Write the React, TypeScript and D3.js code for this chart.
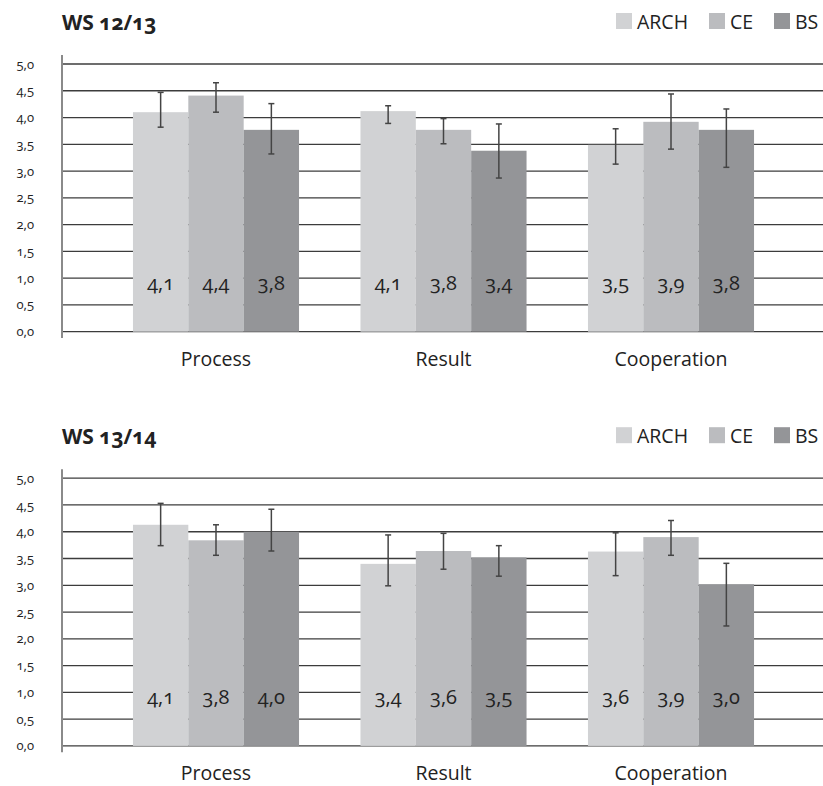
import React from "react";
import * as d3 from "d3";

const categories = ["Process", "Result", "Cooperation"];
const seriesNames = ["ARCH", "CE", "BS"];
const seriesColors = ["#d1d2d4", "#bbbcbf", "#949598"];
const tickValues = [0, 0.5, 1, 1.5, 2, 2.5, 3, 3.5, 4, 4.5, 5];

// WS 12/13
const ws1213_ARCH = [4.1, 4.12, 3.49];
const ws1213_CE = [4.41, 3.77, 3.92];
const ws1213_BS = [3.77, 3.38, 3.77];
const ws1213_ARCH_hi = [4.47, 4.22, 3.79];
const ws1213_ARCH_lo = [3.82, 3.89, 3.13];
const ws1213_CE_hi = [4.65, 3.98, 4.44];
const ws1213_CE_lo = [4.1, 3.51, 3.41];
const ws1213_BS_hi = [4.26, 3.88, 4.16];
const ws1213_BS_lo = [3.32, 2.87, 3.07];

// WS 13/14
const ws1314_ARCH = [4.13, 3.4, 3.63];
const ws1314_CE = [3.84, 3.64, 3.9];
const ws1314_BS = [4.0, 3.52, 3.02];
const ws1314_ARCH_hi = [4.53, 3.94, 3.98];
const ws1314_ARCH_lo = [3.74, 2.99, 3.18];
const ws1314_CE_hi = [4.13, 3.97, 4.21];
const ws1314_CE_lo = [3.56, 3.3, 3.56];
const ws1314_BS_hi = [4.42, 3.74, 3.41];
const ws1314_BS_lo = [3.64, 3.17, 2.24];

const FONT = "'Open Sans', 'Noto Sans', sans-serif";
const fmt = (v: number) => d3.format(".1f")(v).replace(".", ",");

type PanelProps = {
  title: string;
  off: number;
  values: number[][];
  hi: number[][];
  lo: number[][];
};

function Panel({ title, off, values, hi, lo }: PanelProps) {
  const y = d3.scaleLinear().domain([0, 5]).range([331.7 + off, 64 + off]);
  const x0 = d3
    .scaleBand<string>()
    .domain(categories)
    .range([102.25, 784.75])
    .paddingInner(0.27)
    .paddingOuter(0.135);
  const x1 = d3
    .scaleBand<string>()
    .domain(seriesNames)
    .range([0, x0.bandwidth()]);
  const numStyle: React.CSSProperties = { fontVariantNumeric: "oldstyle-nums" };
  const legendX = [616, 709, 774];
  return (
    <g>
      <text
        x={62}
        y={30 + off}
        fontFamily={FONT}
        fontWeight={700}
        fontSize={21}
        fill="#222"
        style={numStyle}
      >
        {title}
      </text>
      {seriesNames.map((s, i) => (
        <g key={s}>
          <rect x={legendX[i]} y={13 + off} width={16} height={16} fill={seriesColors[i]} />
          <text
            x={legendX[i] + 21}
            y={29 + off}
            fontFamily={FONT}
            fontSize={19.5}
            fill="#222"
          >
            {s}
          </text>
        </g>
      ))}
      {tickValues.map((t) => (
        <g key={t}>
          <line x1={62} x2={823} y1={y(t)} y2={y(t)} stroke="#3c3c3c" strokeWidth={1.3} />
          <text
            x={34}
            y={y(t)}
            dy="0.35em"
            textAnchor="end"
            fontFamily={FONT}
            fontSize={13}
            fill="#222"
            style={numStyle}
          >
            {fmt(t)}
          </text>
        </g>
      ))}
      <line x1={62} x2={62} y1={55 + off} y2={338 + off} stroke="#8a8a8a" strokeWidth={2} />
      {categories.map((c, ci) => (
        <g key={c} transform={`translate(${x0(c)},0)`}>
          {seriesNames.map((s, si) => {
            const v = values[si][ci];
            const bx = x1(s) as number;
            const cx = bx + x1.bandwidth() / 2;
            return (
              <g key={s}>
                <rect
                  x={bx}
                  y={y(v)}
                  width={x1.bandwidth()}
                  height={y(0) - y(v)}
                  fill={seriesColors[si]}
                />
                <line x1={cx} x2={cx} y1={y(hi[si][ci])} y2={y(lo[si][ci])} stroke="#444" strokeWidth={1.5} />
                <line x1={cx - 3} x2={cx + 3} y1={y(hi[si][ci])} y2={y(hi[si][ci])} stroke="#444" strokeWidth={1.5} />
                <line x1={cx - 3} x2={cx + 3} y1={y(lo[si][ci])} y2={y(lo[si][ci])} stroke="#444" strokeWidth={1.5} />
                <text
                  x={cx}
                  y={283 + off}
                  dy="0.35em"
                  textAnchor="middle"
                  fontFamily={FONT}
                  fontSize={20}
                  fill="#222"
                  style={numStyle}
                >
                  {fmt(v)}
                </text>
              </g>
            );
          })}
          <text
            x={x0.bandwidth() / 2}
            y={359 + off}
            dy="0.35em"
            textAnchor="middle"
            fontFamily={FONT}
            fontSize={19.5}
            fill="#222"
          >
            {c}
          </text>
        </g>
      ))}
    </g>
  );
}

export default function App() {
  return (
    <div style={{ position: "absolute", left: 0, top: 0 }}>
      <svg width={823} height={786} style={{ display: "block", background: "#fff" }}>
        <Panel
          title="WS 12/13"
          off={0}
          values={[ws1213_ARCH, ws1213_CE, ws1213_BS]}
          hi={[ws1213_ARCH_hi, ws1213_CE_hi, ws1213_BS_hi]}
          lo={[ws1213_ARCH_lo, ws1213_CE_lo, ws1213_BS_lo]}
        />
        <Panel
          title="WS 13/14"
          off={414.2}
          values={[ws1314_ARCH, ws1314_CE, ws1314_BS]}
          hi={[ws1314_ARCH_hi, ws1314_CE_hi, ws1314_BS_hi]}
          lo={[ws1314_ARCH_lo, ws1314_CE_lo, ws1314_BS_lo]}
        />
      </svg>
    </div>
  );
}
